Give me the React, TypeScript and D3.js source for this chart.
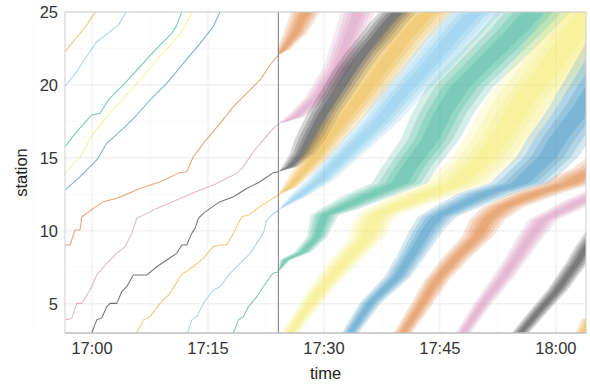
import React from 'react';
import * as d3 from 'd3';

// ---------- layout ----------
const W = 590;
const H = 384;
const PL = 65, PR = 586, PT = 12, PB = 333;

// ---------- axes ----------
const timeDomainMin = [-3.5, 63.9]; // minutes after 17:00
const stationDomain = [3, 25];
const nowMinute = 24.1;
const xTickMinutes = [0, 15, 30, 45, 60];
const xMinorMinutes = [-7.5, 7.5, 22.5, 37.5, 52.5];
const yTicks = [5, 10, 15, 20, 25];
const yMinor = [7.5, 12.5, 17.5, 22.5];

// Okabe-Ito palette, in train order
const palette = ['#E69F00', '#56B4E9', '#009E73', '#F0E442', '#0072B2', '#D55E00', '#CC79A7', '#000000'];

// ---------- observed trajectories: [minute after 17:00, station] ----------
const obsA = [[-3.5, 22.28], [-1.55, 23.54], [-0.69, 24.1], [0.39, 25]];
const obsB = [[-3.49, 19.93], [-1.98, 20.9], [-0.91, 21.8], [0.61, 22.96], [2.33, 23.65], [3.4, 24.1], [4.4, 25]];
const obsC = [[-3.49, 15.77], [-1.98, 16.8], [-0.04, 17.94], [1.03, 18.06], [2.11, 18.97], [4.05, 20.0], [6.21, 21.25], [8.37, 22.5], [10.31, 23.54], [10.96, 24.1], [11.6, 25]];
const obsD = [[-3.49, 13.94], [-1.55, 15.08], [0.17, 16.68], [1.9, 17.82], [3.84, 18.97], [6.21, 20.34], [8.37, 21.71], [10.52, 22.96], [12.03, 24.0], [12.9, 25]];
const obsE = [[-3.49, 12.8], [-1.55, 13.71], [0.61, 14.86], [1.9, 16.0], [4.05, 17.03], [5.78, 17.94], [7.5, 18.97], [9.66, 20.11], [11.81, 21.48], [13.97, 22.85], [15.69, 24.0], [16.56, 25]];
const obsF = [[-3.49, 9.03], [-2.85, 9.03], [-2.2, 10.06], [-1.55, 10.06], [-1.33, 10.97], [0.17, 11.54], [1.46, 12.0], [3.2, 12.23], [6.21, 12.9], [8.8, 13.37], [11.38, 13.99], [12.25, 14.05], [13.1, 15.08], [14.39, 16.0], [16.56, 17.37], [18.28, 18.51], [19.57, 19.2], [21.73, 20.34], [23.03, 21.37], [24.1, 22.05]];
const obsG = [[-3.49, 3.9], [-2.63, 4.0], [-1.98, 5.03], [-1.33, 5.03], [-0.26, 5.95], [0.61, 6.97], [1.9, 7.78], [3.2, 8.46], [4.27, 8.92], [5.14, 9.83], [5.78, 10.86], [6.64, 11.08], [8.37, 11.54], [10.96, 12.11], [13.97, 12.8], [15.69, 13.14], [17.43, 13.6], [18.72, 13.94], [19.57, 14.4], [20.87, 15.42], [22.16, 16.23], [23.45, 17.03], [24.1, 17.32]];
const obsH = [[-0.04, 3.0], [0.61, 3.9], [1.25, 4.03], [1.9, 4.8], [2.33, 5.03], [3.2, 5.03], [3.84, 5.83], [4.49, 6.17], [5.34, 6.97], [7.08, 6.97], [8.37, 7.54], [9.66, 8.0], [10.96, 8.46], [11.6, 9.03], [12.25, 9.03], [12.9, 9.83], [13.32, 10.17], [13.75, 10.86], [14.4, 11.2], [15.27, 11.54], [16.56, 12.0], [18.28, 12.34], [20.01, 12.9], [21.73, 13.37], [23.45, 13.99], [24.1, 14.05]];
const obsI = [[5.78, 3.0], [6.64, 3.9], [7.5, 4.12], [8.8, 5.03], [10.09, 5.72], [11.38, 6.86], [11.81, 7.09], [13.1, 7.54], [14.4, 8.12], [15.69, 8.92], [16.56, 9.03], [17.43, 9.03], [18.28, 9.83], [18.93, 10.51], [19.37, 10.97], [20.22, 11.08], [21.73, 11.66], [23.03, 12.11], [24.1, 12.46]];
const obsJ = [[12.38, 3.0], [12.9, 3.9], [13.54, 4.12], [14.4, 5.03], [15.69, 5.95], [16.56, 6.17], [17.85, 7.09], [19.15, 7.78], [20.44, 8.46], [21.31, 9.15], [22.16, 9.83], [22.6, 10.74], [23.25, 11.08], [24.1, 11.43]];
const obsK = [[18.28, 3.0], [18.93, 3.9], [19.57, 4.12], [20.22, 4.8], [21.31, 5.49], [22.16, 6.17], [23.03, 6.86], [23.45, 7.09], [24.1, 7.2]];

const observed = [obsA, obsB, obsC, obsD, obsE, obsF, obsG, obsH, obsI, obsJ, obsK];

// ---------- predictions: [station, median minute, half-width minutes] ----------
const predF = [[22.05, 24.1, 0], [22.4, 24.7, 0.8], [23.56, 26.3, 1.5], [25, 27.6, 1.9]];
const predG = [[17.32, 24.1, 0], [17.8, 26.3, 1.2], [19.17, 29.1, 1.5], [21.2, 31.7, 1.8], [23.56, 33.4, 2.0], [25, 34.4, 2.2]];
const predH = [[14.05, 24.1, 0], [14.4, 25.6, 1.0], [15.3, 27.2, 1.6], [16.4, 28.3, 2.0], [18.1, 30.0, 2.1], [19.65, 31.9, 2.2], [21.0, 33.5, 2.3], [22.2, 35.1, 2.3], [23.3, 36.9, 2.4], [24.2, 38.2, 2.4], [25, 39.6, 2.4]];
const predI = [[12.46, 24.1, 0], [13.0, 25.6, 1.0], [14.86, 28.6, 1.8], [17.12, 31.7, 2.4], [19.17, 34.7, 2.8], [21.23, 37.6, 3.1], [23.08, 40.2, 3.3], [24.66, 42.8, 3.4], [25, 43.7, 3.4]];
const predJ = [[11.43, 24.1, 0], [12.3, 26.5, 1.1], [13.49, 29.5, 1.8], [15.75, 33.8, 2.3], [17.6, 37.3, 2.6], [19.45, 40.2, 3.0], [21.23, 43.3, 3.2], [23.08, 46.3, 3.4], [24.66, 48.9, 3.5], [25, 49.9, 3.5]];
const predK = [[7.2, 24.1, 0], [8.0, 25.0, 0.7], [8.55, 27.3, 1.1], [9.58, 29.1, 1.3], [11.08, 30.1, 1.8], [11.43, 31.7, 2.4], [12.46, 36.0, 3.3], [13.28, 39.8, 3.6], [14.38, 41.1, 3.6], [16.23, 43.7, 3.8], [18.08, 45.4, 4.0], [19.86, 47.6, 4.3], [21.23, 50.2, 4.5], [22.6, 52.8, 4.6], [23.77, 55.0, 4.7], [25, 57.1, 4.8]];
const predL = [[3, 25.6, 1.1], [5.95, 29.5, 1.6], [7.8, 32.5, 2.0], [9.58, 35.6, 2.3], [10.74, 36.4, 2.6], [11.2, 37.3, 2.9], [12.3, 42.4, 3.8], [13.28, 47.2, 4.2], [14.86, 50.6, 4.4], [16.7, 53.2, 4.6], [18.97, 55.8, 4.9], [20.55, 58.3, 5.1], [22.19, 60.5, 5.3], [23.77, 62.7, 5.5], [25, 64.4, 5.6]];
const predM = [[3, 33.4, 1.1], [5.05, 36.0, 1.4], [6.84, 39.5, 1.7], [8.48, 41.5, 1.9], [10.06, 43.3, 2.2], [10.95, 44.6, 2.5], [11.64, 47.2, 3.0], [12.6, 51.1, 3.6], [13.28, 55.4, 3.9], [15.06, 58.9, 4.0], [16.43, 60.5, 4.1], [17.6, 62.2, 4.2], [18.49, 63.5, 4.4], [20.5, 66.0, 4.7], [22.5, 68.5, 5.0], [25, 71.0, 5.2]];
const predN = [[3, 40.2, 1.2], [4.78, 42.4, 1.4], [6.63, 44.6, 1.6], [8.21, 47.2, 1.8], [9.58, 49.8, 2.0], [10.74, 51.1, 2.3], [11.64, 53.2, 2.7], [12.6, 57.6, 3.2], [13.28, 61.8, 3.4], [13.7, 63.1, 3.4], [14.3, 65.7, 3.5], [15.2, 68.0, 3.6]];
const predO = [[3, 48.0, 1.0], [5.05, 50.6, 1.2], [6.84, 53.2, 1.4], [8.21, 55.0, 1.5], [9.58, 56.7, 1.7], [10.74, 58.3, 1.9], [11.43, 60.9, 2.1], [12.11, 63.5, 2.3], [12.6, 65.7, 2.4], [13.2, 68.0, 2.5]];
const predP = [[3, 55.4, 1.1], [4.37, 57.6, 1.2], [5.95, 60.2, 1.3], [7.8, 62.7, 1.4], [8.9, 64.0, 1.5], [10.1, 65.7, 1.6]];
const predQ = [[3, 63.5, 1.0], [4.0, 64.4, 1.1]];

// prediction index -> palette index (train F is the 6th train)
const predicted = [predF, predG, predH, predI, predJ, predK, predL, predM, predN, predO, predP, predQ];
const predictedColorOffset = 5;

// nested interval levels (fraction of outer half-width)
const bandLevels = [1, 0.76, 0.53, 0.3];

const BASE = new Date(2024, 0, 1, 17, 0, 0).getTime();
const toDate = (m: number) => new Date(BASE + m * 60000);

export default function App() {
  const x = d3.scaleTime().domain(timeDomainMin.map(toDate)).range([PL, PR]);
  const y = d3.scaleLinear().domain(stationDomain).range([PB, PT]);
  const fmt = d3.timeFormat('%H:%M');

  const line = d3
    .line<number[]>()
    .x((d) => x(toDate(d[0])))
    .y((d) => y(d[1]));

  const areaFor = (f: number) =>
    d3
      .area<number[]>()
      .y((d) => y(d[0]))
      .x0((d) => x(toDate(d[1] - d[2] * f)))
      .x1((d) => x(toDate(d[1] + d[2] * f)));

  const font = "'Liberation Sans', Arial, Helvetica, sans-serif";

  return (
    <svg width={W} height={H} style={{ display: 'block', position: 'absolute', left: 0, top: 0 }}>
      <defs>
        <clipPath id="panel">
          <rect x={PL} y={PT} width={PR - PL} height={PB - PT} />
        </clipPath>
      </defs>
      <rect x={0} y={0} width={W} height={H} fill="#ffffff" />
      {/* grid */}
      {yMinor.map((v) => (
        <line key={'ym' + v} x1={PL} x2={PR} y1={y(v)} y2={y(v)} stroke="#f3f3f3" strokeWidth={0.6} />
      ))}
      {xMinorMinutes.map((v) => (
        <line key={'xm' + v} x1={x(toDate(v))} x2={x(toDate(v))} y1={PT} y2={PB} stroke="#f3f3f3" strokeWidth={0.6} />
      ))}
      {yTicks.map((v) => (
        <line key={'yg' + v} x1={PL} x2={PR} y1={y(v)} y2={y(v)} stroke="#ebebeb" strokeWidth={1} />
      ))}
      {xTickMinutes.map((v) => (
        <line key={'xg' + v} x1={x(toDate(v))} x2={x(toDate(v))} y1={PT} y2={PB} stroke="#ebebeb" strokeWidth={1} />
      ))}

      <g clipPath="url(#panel)">
        {predicted.map((tr, i) => {
          const color = palette[(i + predictedColorOffset) % palette.length];
          return (
            <g key={'p' + i}>
              {bandLevels.map((f) => (
                <path key={f} d={areaFor(f)(tr) || ''} fill={color} fillOpacity={0.165} stroke="none" />
              ))}
            </g>
          );
        })}
        {observed.map((tr, i) => (
          <path
            key={'o' + i}
            d={line(tr) || ''}
            fill="none"
            stroke={palette[i % palette.length]}
            strokeOpacity={0.55}
            strokeWidth={1.05}
            strokeLinejoin="round"
          />
        ))}
      </g>

      {/* now line */}
      <line x1={x(toDate(nowMinute))} x2={x(toDate(nowMinute))} y1={PT} y2={PB} stroke="#7a7a7a" strokeWidth={1} />

      {/* panel border */}
      <rect x={PL} y={PT} width={PR - PL} height={PB - PT} fill="none" stroke="#cfcfcf" strokeWidth={1} />
      <line x1={PL} x2={PR} y1={PB} y2={PB} stroke="#b5b5b5" strokeWidth={1} />

      {/* axis labels */}
      {yTicks.map((v) => (
        <text key={'yl' + v} x={58} y={y(v)} dy="0.36em" textAnchor="end" fontFamily={font} fontSize={16.5} fill="#333">
          {v}
        </text>
      ))}
      {xTickMinutes.map((v) => (
        <text key={'xl' + v} x={x(toDate(v))} y={354} textAnchor="middle" fontFamily={font} fontSize={16.5} fill="#333">
          {fmt(toDate(v))}
        </text>
      ))}
      <text x={(PL + PR) / 2} y={379} textAnchor="middle" fontFamily={font} fontSize={16.5} fill="#222">
        time
      </text>
      <text
        transform={`translate(27, ${(PT + PB) / 2}) rotate(-90)`}
        textAnchor="middle"
        fontFamily={font}
        fontSize={16.5}
        fill="#222"
      >
        station
      </text>
    </svg>
  );
}
